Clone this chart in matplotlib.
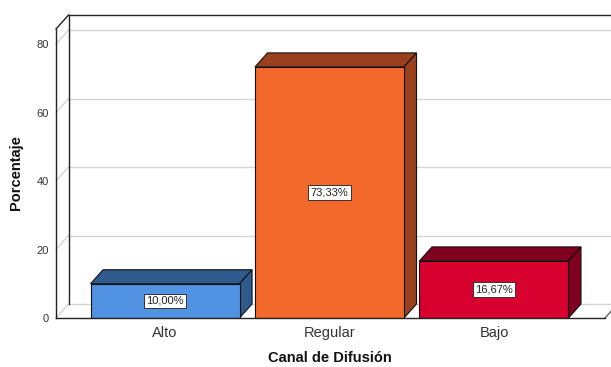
import numpy as np
import matplotlib.pyplot as plt
from matplotlib.patches import Polygon

plt.rcParams['font.family'] = ['Liberation Sans', 'DejaVu Sans']

categorias = ["Alto", "Regular", "Bajo"]
porcentajes = [10.00, 73.33, 16.67]
etiquetas = ["10,00%", "73,33%", "16,67%"]
color_frente = ["#5192E2", "#F2692B", "#D7002F"]
color_lado = ["#2F5A8E", "#9A401C", "#80001F"]

y_ticks = [0, 20, 40, 60, 80]

fig = plt.figure(figsize=(6.11, 3.67), dpi=100)
W, H = 611, 367
x_left, x_right = 56, 605
y_bot, y_top = 318, 29
ax = fig.add_axes([x_left / W, (H - y_bot) / H, (x_right - x_left) / W, (y_bot - y_top) / H])

xmin, xmax = -0.663, 2.675
ymax = 84.4
ax.set_xlim(xmin, xmax)
ax.set_ylim(0, ymax)
for s in ax.spines.values():
    s.set_visible(False)

# depth offset of the 3d box, in data units
dx = 12.5 / ((x_right - x_left) / (xmax - xmin))
dy = 14.0 / ((y_bot - y_top) / ymax)

grid_c = "#D4D4D4"
# gridlines on back wall and left wall
for t in y_ticks:
    ax.plot([xmin + dx, xmax + dx], [t + dy, t + dy], color=grid_c, lw=1.0, clip_on=False, zorder=1)
    ax.plot([xmin, xmin + dx], [t, t + dy], color=grid_c, lw=1.0, clip_on=False, zorder=1)
# floor right diagonal
ax.plot([xmax, xmax + dx], [0, dy], color="#555555", lw=0.9, clip_on=False, zorder=1)

# frame
k = "#222222"
ax.plot([xmin, xmin], [0, ymax], color=k, lw=1.0, clip_on=False, zorder=2)
ax.plot([xmin + dx, xmin + dx], [dy, ymax + dy], color=k, lw=1.0, clip_on=False, zorder=2)
ax.plot([xmin, xmin + dx], [ymax, ymax + dy], color=k, lw=1.0, clip_on=False, zorder=2)
ax.plot([xmin + dx, xmax + dx], [ymax + dy, ymax + dy], color=k, lw=1.0, clip_on=False, zorder=2)

# bars
ancho = 0.906
x = np.arange(len(categorias))
for i, (v, lab) in enumerate(zip(porcentajes, etiquetas)):
    x0, x1 = x[i] - ancho / 2, x[i] + ancho / 2
    top = Polygon([(x0, v), (x1, v), (x1 + dx, v + dy), (x0 + dx, v + dy)],
                  closed=True, fc=color_lado[i], ec="#111111", lw=0.8, zorder=4, clip_on=False)
    side = Polygon([(x1, 0), (x1 + dx, dy), (x1 + dx, v + dy), (x1, v)],
                   closed=True, fc=color_lado[i], ec="#111111", lw=0.8, zorder=4, clip_on=False)
    ax.add_patch(top)
    ax.add_patch(side)
    ax.bar(x[i], v, width=ancho, color=color_frente[i], edgecolor="#111111", lw=0.8, zorder=5)
    ax.text(x[i], v / 2, lab, ha="center", va="center", fontsize=8, color="#222222", zorder=6,
            bbox=dict(boxstyle="square,pad=0.2", fc="white", ec="#333333", lw=0.7))

# front floor line
ax.plot([xmin, xmax], [0, 0], color=k, lw=1.0, clip_on=False, zorder=6)

ax.set_xticks(x)
ax.set_xticklabels(categorias, fontsize=10.5, color="#333333")
ax.set_yticks(y_ticks)
ax.set_yticklabels([str(t) for t in y_ticks], fontsize=8, color="#333333")
ax.tick_params(length=0, pad=5)
ax.tick_params(axis="x", pad=6)

fig.text(330 / W, 1 - 358 / H, "Canal de Difusión", ha="center", va="center",
         fontsize=10.5, fontweight="bold", color="#111111")
fig.text(16 / W, 1 - 173 / H, "Porcentaje", ha="center", va="center", rotation=90,
         fontsize=10.5, fontweight="bold", color="#111111")

fig.savefig("out.png", dpi=100)
